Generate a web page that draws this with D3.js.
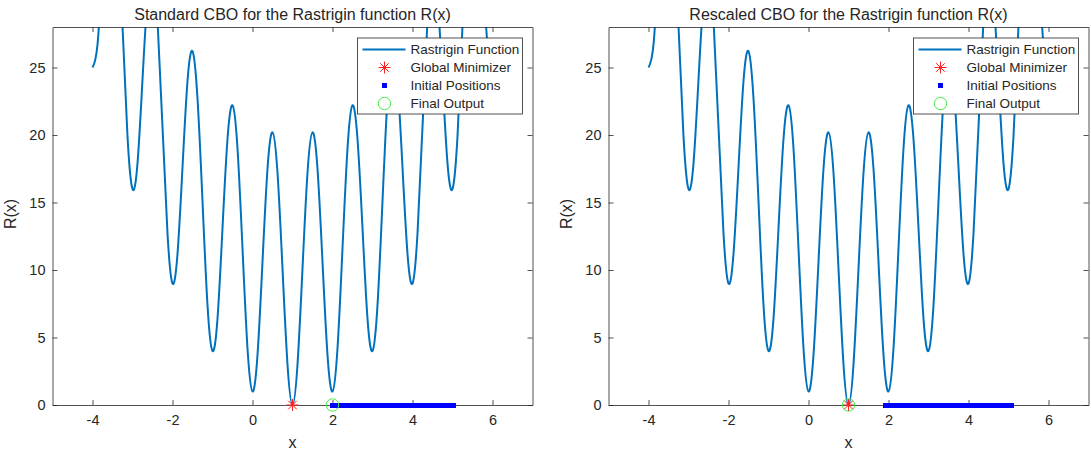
<!DOCTYPE html>
<html>
<head>
<meta charset="utf-8">
<script src="https://cdn.jsdelivr.net/npm/d3@7"></script>
<style>
  body { margin: 0; background: #fff; }
  text { font-family: "Liberation Sans", Arial, Helvetica, sans-serif; fill: #262626; }
</style>
</head>
<body>
<div id="chart"></div>
<script>
var curveX = [-4, -3.875, -3.75, -3.625, -3.5, -3.375, -3.25, -3.125,
              -3, -2.875, -2.75, -2.625, -2.5, -2.375, -2.25, -2.125,
              -2, -1.875, -1.75, -1.625, -1.5, -1.375, -1.25, -1.125,
              -1, -0.875, -0.75, -0.625, -0.5, -0.375, -0.25, -0.125,
              0, 0.125, 0.25, 0.375, 0.5, 0.625, 0.75, 0.875,
              1, 1.125, 1.25, 1.375, 1.5, 1.625, 1.75, 1.875,
              2, 2.125, 2.25, 2.375, 2.5, 2.625, 2.75, 2.875,
              3, 3.125, 3.25, 3.375, 3.5, 3.625, 3.75, 3.875,
              4, 4.125, 4.25, 4.375, 4.5, 4.625, 4.75, 4.875,
              5, 5.125, 5.25, 5.375, 5.5, 5.625, 5.75, 5.875, 6];
var curveY = [25, 26.7, 32.6, 38.5, 40.3, 36.2, 28.1, 19.9,
              16, 17.9, 24.1, 30.2, 32.3, 28.5, 20.6, 12.7,
              9, 11.2, 17.6, 24.0, 26.2, 22.7, 15.1, 7.4,
              4, 6.4, 13.1, 19.7, 22.2, 19.0, 11.6, 4.2,
              1, 3.7, 10.6, 17.5, 20.2, 17.2, 10.1, 3.0,
              0, 3.0, 10.1, 17.2, 20.2, 17.5, 10.6, 3.7,
              1, 4.2, 11.6, 19.0, 22.2, 19.7, 13.1, 6.4,
              4, 7.4, 15.1, 22.7, 26.2, 24.0, 17.6, 11.2,
              9, 12.7, 20.6, 28.5, 32.3, 30.2, 24.1, 17.9,
              16, 19.9, 28.1, 36.2, 40.3, 38.5, 32.6, 26.7, 25];

var globalMinimizer = [1, 0];

var standardInitialX = [2.0, 2.1, 2.2, 2.3, 2.4, 2.5, 2.6, 2.7, 2.8, 2.9,
                        3.0, 3.1, 3.2, 3.3, 3.4, 3.5, 3.6, 3.7, 3.8, 3.9,
                        4.0, 4.1, 4.2, 4.3, 4.4, 4.5, 4.6, 4.7, 4.8, 4.9, 5.0];
var rescaledInitialX = [1.94, 2.0, 2.1, 2.2, 2.3, 2.4, 2.5, 2.6, 2.7, 2.8, 2.9,
                        3.0, 3.1, 3.2, 3.3, 3.4, 3.5, 3.6, 3.7, 3.8, 3.9,
                        4.0, 4.1, 4.2, 4.3, 4.4, 4.5, 4.6, 4.7, 4.8, 4.9, 5.0, 5.05];
var standardFinal = [2, 0];
var rescaledFinal = [1, 0];

var xTicks = [-4, -2, 0, 2, 4, 6];
var yTicks = [0, 5, 10, 15, 20, 25];
var legendLabels = ["Rastrigin Function", "Global Minimizer", "Initial Positions", "Final Output"];

var width = 1091,
    height = 456;
var lineColor = "#0072bd",
    axisColor = "#262626",
    finalColor = "#44ee44";

var svg = d3.select("#chart")
  .append("svg")
    .attr("width", width)
    .attr("height", height);

drawPanel({ id: "std", left: 52.5, title: "Standard CBO for the Rastrigin function R(x)",
            initialX: standardInitialX, final: standardFinal });
drawPanel({ id: "res", left: 608.5, title: "Rescaled CBO for the Rastrigin function R(x)",
            initialX: rescaledInitialX, final: rescaledFinal });

function plainNumber(d) { return String(d).replace("\u2212", "-"); }

function drawPanel(opts) {
  var plotW = 480,
      top = 27,
      bottom = 405;
  var x = d3.scaleLinear().domain([-5, 7]).range([opts.left, opts.left + plotW]);
  var y = d3.scaleLinear().domain([0, 28]).range([bottom, top]);
  var tickLen = 5;

  var g = svg.append("g");

  g.append("clipPath").attr("id", "clip-" + opts.id)
    .append("rect")
      .attr("x", opts.left).attr("y", top)
      .attr("width", plotW).attr("height", bottom - top);

  var points = curveX.map(function(v, i) { return [v, curveY[i]]; });
  var line = d3.line()
    .x(function(d) { return x(d[0]); })
    .y(function(d) { return y(d[1]); })
    .curve(d3.curveNatural);

  g.append("path")
    .datum(points)
    .attr("clip-path", "url(#clip-" + opts.id + ")")
    .attr("fill", "none")
    .attr("stroke", lineColor)
    .attr("stroke-width", 2)
    .attr("d", line);

  // axes box with mirrored ticks
  var axisBottom = d3.axisBottom(x).tickValues(xTicks).tickSizeInner(-tickLen).tickSizeOuter(0)
    .tickPadding(10).tickFormat(plainNumber);
  var axisTop = d3.axisTop(x).tickValues(xTicks).tickSizeInner(-tickLen).tickSizeOuter(0).tickFormat("");
  var axisLeft = d3.axisLeft(y).tickValues(yTicks).tickSizeInner(-tickLen).tickSizeOuter(0)
    .tickPadding(7).tickFormat(plainNumber);
  var axisRight = d3.axisRight(y).tickValues(yTicks).tickSizeInner(-tickLen).tickSizeOuter(0).tickFormat("");

  [[axisBottom, "translate(0," + bottom + ")"],
   [axisTop, "translate(0," + top + ")"],
   [axisLeft, "translate(" + opts.left + ",0)"],
   [axisRight, "translate(" + (opts.left + plotW) + ",0)"]].forEach(function(a) {
    var ax = g.append("g").attr("transform", a[1]).call(a[0]);
    ax.select(".domain").attr("stroke", axisColor).attr("stroke-width", 0.8);
    ax.selectAll(".tick line").attr("stroke", axisColor).attr("stroke-width", 0.8);
    ax.selectAll(".tick text")
      .attr("font-family", "Liberation Sans, Arial, sans-serif")
      .attr("font-size", 14.5)
      .attr("fill", axisColor);
  });

  // markers
  drawAsterisk(g, x(globalMinimizer[0]), y(globalMinimizer[1]), 6);

  g.append("g")
    .attr("shape-rendering", "crispEdges")
    .selectAll("rect.init")
    .data(opts.initialX)
    .enter()
      .append("rect")
      .attr("class", "init")
      .attr("x", function(d) { return x(d) - 3; })
      .attr("y", y(0) - 2.5)
      .attr("width", 6)
      .attr("height", 5)
      .attr("fill", "#0000ff");

  g.append("circle")
    .attr("cx", x(opts.final[0]))
    .attr("cy", y(opts.final[1]))
    .attr("r", 6.2)
    .attr("fill", "none")
    .attr("stroke", finalColor)
    .attr("stroke-width", 1);

  // labels
  g.append("text")
    .attr("x", opts.left + plotW / 2)
    .attr("y", 20)
    .attr("text-anchor", "middle")
    .attr("font-size", 16)
    .text(opts.title);

  g.append("text")
    .attr("x", opts.left + plotW / 2)
    .attr("y", 448)
    .attr("text-anchor", "middle")
    .attr("font-size", 16)
    .text("x");

  g.append("text")
    .attr("transform", "translate(" + (opts.left - 36.5) + "," + ((top + bottom) / 2 - 2) + ") rotate(-90)")
    .attr("text-anchor", "middle")
    .attr("font-size", 16)
    .text("R(x)");

  drawLegend(g, opts.left + 305, 38);
}

function drawAsterisk(sel, cx, cy, r) {
  var d = r * Math.SQRT1_2;
  sel.append("path")
    .attr("d", "M" + (cx - r) + "," + cy + "H" + (cx + r) +
               "M" + cx + "," + (cy - r) + "V" + (cy + r) +
               "M" + (cx - d) + "," + (cy - d) + "L" + (cx + d) + "," + (cy + d) +
               "M" + (cx - d) + "," + (cy + d) + "L" + (cx + d) + "," + (cy - d))
    .attr("stroke", "#ff2020")
    .attr("stroke-width", 1)
    .attr("fill", "none");
}

function drawLegend(g, lx, ly) {
  var boxW = 165,
      boxH = 76,
      rowH = 18;
  var leg = g.append("g");
  leg.append("rect")
    .attr("x", lx).attr("y", ly)
    .attr("width", boxW).attr("height", boxH)
    .attr("fill", "#fff")
    .attr("stroke", axisColor)
    .attr("stroke-width", 0.8);

  var sampleX = lx + 27,
      textX = lx + 53;
  legendLabels.forEach(function(label, i) {
    var cy = ly + 11.5 + i * rowH;
    if (i === 0) {
      leg.append("line")
        .attr("x1", lx + 5).attr("x2", lx + 48)
        .attr("y1", cy).attr("y2", cy)
        .attr("stroke", lineColor).attr("stroke-width", 2);
    } else if (i === 1) {
      drawAsterisk(leg, sampleX, cy, 6);
    } else if (i === 2) {
      leg.append("rect")
        .attr("x", sampleX - 2.5).attr("y", cy - 2.5)
        .attr("width", 5).attr("height", 5)
        .attr("fill", "#0000ff");
    } else {
      leg.append("circle")
        .attr("cx", sampleX).attr("cy", cy).attr("r", 6.2)
        .attr("fill", "none").attr("stroke", finalColor).attr("stroke-width", 1);
    }
    leg.append("text")
      .attr("x", textX)
      .attr("y", cy)
      .attr("dy", "0.35em")
      .attr("font-size", 13.5)
      .text(label);
  });
}
</script>
</body>
</html>
